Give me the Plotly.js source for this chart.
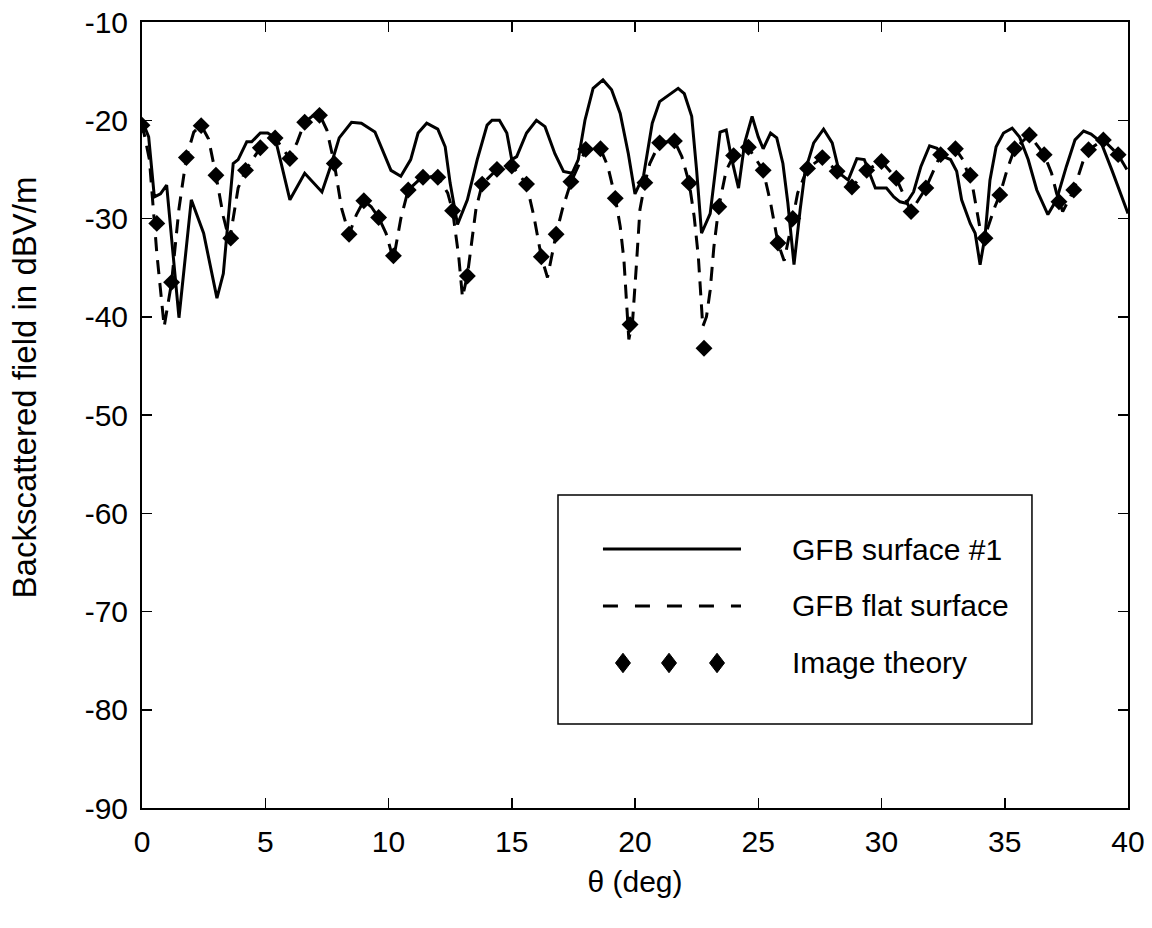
<!DOCTYPE html>
<html>
<head>
<meta charset="utf-8">
<script src="https://cdn.plot.ly/plotly-3.0.1.min.js"></script>
<style>
  html, body { margin: 0; padding: 0; background: #fff; }
  #chart { width: 1152px; height: 928px; }
</style>
</head>
<body>
<div id="chart"></div>
<script>
// ---- data ----
var thetaSurf = [0,0.27,0.5,0.75,1.0,1.5,2.0,2.5,3.04,3.3,
  3.7,3.9,4.25,4.45,4.8,5.1,5.4,6.0,6.6,7.3,
  7.65,8.0,8.5,8.9,9.45,10.1,10.5,10.9,11.2,11.55,
  12.0,12.3,12.5,12.8,13.2,13.6,14.0,14.2,14.5,14.8,
  15.0,15.2,15.6,16.0,16.35,16.75,17.1,17.45,17.7,17.97,
  18.3,18.7,19.05,19.4,19.73,20.0,20.35,20.7,21.0,21.4,
  21.75,22.0,22.3,22.5,22.7,23.05,23.45,23.7,23.9,24.2,
  24.45,24.75,25.0,25.2,25.5,25.75,26.0,26.2,26.45,26.7,
  26.9,27.25,27.65,28.0,28.3,28.65,29.0,29.3,29.75,30.2,
  30.5,30.75,31.0,31.3,31.6,31.95,32.25,32.5,32.8,33.05,
  33.25,33.6,33.8,34.0,34.2,34.4,34.65,34.95,35.3,35.6,
  35.95,36.3,36.75,37.1,37.5,37.85,38.2,38.5,38.9,39.35,
  39.7,40.0];
var gfbSurface = [-20.0,-21.7,-27.8,-27.5,-26.6,-40.1,-28.1,-31.5,-38.1,-35.6,
  -24.4,-24.0,-22.2,-22.2,-21.3,-21.3,-21.8,-28.1,-25.4,-27.3,
  -24.7,-21.8,-20.2,-20.3,-21.2,-25.1,-25.7,-24.0,-21.3,-20.3,
  -20.9,-22.7,-26.4,-30.6,-28.1,-24.0,-20.5,-20.0,-20.0,-21.3,
  -24.0,-23.7,-21.3,-20.0,-20.65,-23.4,-25.2,-25.4,-24.0,-20.0,
  -16.75,-15.9,-16.9,-19.3,-23.4,-27.5,-25.6,-20.3,-18.1,-17.4,
  -16.75,-17.3,-19.6,-25.1,-31.5,-29.5,-21.2,-21.0,-23.7,-26.9,
  -22.3,-19.6,-21.7,-22.9,-21.3,-21.8,-24.4,-28.4,-34.7,-29.1,
  -25.2,-22.3,-20.9,-22.3,-25.4,-26.1,-23.9,-24.0,-26.9,-26.9,
  -27.8,-28.3,-28.45,-27.3,-24.7,-22.6,-22.85,-23.7,-24.0,-25.2,
  -28.1,-30.5,-31.5,-34.7,-31.8,-26.1,-22.7,-21.3,-20.8,-21.7,
  -24.0,-27.1,-29.6,-28.1,-24.7,-22.0,-21.1,-21.4,-22.2,-25.1,
  -27.4,-29.5];

var thetaFlat = [0,0.3,0.6,0.9,1.2,1.5,1.8,2.1,2.4,2.7,
  3.0,3.3,3.55,3.9,4.2,4.8,5.4,6.0,6.3,6.6,
  6.9,7.2,7.5,7.8,8.1,8.4,8.7,9.0,9.3,9.6,
  9.9,10.2,10.5,10.8,11.4,12.0,12.4,12.6,12.85,13.0,
  13.2,13.4,13.55,13.8,14.4,15.0,15.6,15.9,16.2,16.45,
  16.8,17.05,17.4,18.0,18.6,18.9,19.2,19.4,19.55,19.75,
  19.9,20.05,20.2,20.4,20.6,21.0,21.6,21.9,22.2,22.4,
  22.57,22.75,22.9,23.05,23.2,23.4,23.7,24.0,24.6,25.2,
  25.5,25.8,26.05,26.4,26.6,27.0,27.6,28.2,28.8,29.4,
  30.0,30.6,31.2,31.8,32.4,33.0,33.3,33.7,34.1,34.6,
  34.8,35.1,35.4,36.0,36.6,36.9,37.1,37.35,37.8,38.2,
  38.4,39.0,39.6,40.0];
var gfbFlat = [-20.3,-24.0,-33.5,-41.0,-36.5,-29.0,-23.8,-21.2,-20.5,-21.9,
  -25.6,-29.8,-32.3,-26.9,-25.1,-22.8,-21.8,-23.9,-22.2,-20.2,
  -19.6,-19.4,-21.0,-24.4,-29.0,-31.6,-29.6,-28.2,-28.8,-29.9,
  -31.5,-34.2,-30.0,-27.1,-25.7,-25.8,-27.4,-29.2,-33.9,-38.0,
  -35.8,-32.0,-29.0,-26.5,-25.0,-24.6,-26.5,-29.8,-33.9,-36.0,
  -31.6,-29.1,-26.3,-23.0,-22.9,-24.7,-27.9,-30.8,-34.2,-42.3,
  -40.5,-35.0,-29.1,-26.4,-24.4,-22.3,-22.1,-23.7,-26.4,-29.8,
  -33.9,-41.0,-40.0,-37.3,-32.9,-28.8,-25.1,-23.6,-22.8,-25.1,
  -28.4,-32.5,-34.3,-30.0,-27.4,-24.9,-23.8,-25.2,-26.8,-25.1,
  -24.2,-25.9,-29.3,-26.9,-23.5,-22.9,-24.0,-26.8,-32.5,-28.8,
  -27.6,-25.0,-22.9,-21.5,-23.5,-25.4,-27.4,-29.3,-27.1,-24.0,
  -23.0,-22.0,-23.5,-25.2];

var thetaImg = [0,0.6,1.2,1.8,2.4,3.0,3.6,4.2,4.8,5.4,
  6.0,6.6,7.2,7.8,8.4,9.0,9.6,10.2,10.8,11.4,
  12.0,12.6,13.2,13.8,14.4,15.0,15.6,16.2,16.8,17.4,
  18.0,18.6,19.2,19.8,20.4,21.0,21.6,22.2,22.8,23.4,
  24.0,24.6,25.2,25.8,26.4,27.0,27.6,28.2,28.8,29.4,
  30.0,30.6,31.2,31.8,32.4,33.0,33.6,34.2,34.8,35.4,
  36.0,36.6,37.2,37.8,38.4,39.0,39.6];
var imageTheory = [-20.5,-30.5,-36.5,-23.8,-20.55,-25.6,-32.0,-25.1,-22.8,-21.8,
  -23.9,-20.2,-19.5,-24.4,-31.6,-28.2,-29.9,-33.8,-27.1,-25.8,
  -25.8,-29.2,-35.85,-26.5,-25.0,-24.65,-26.5,-33.9,-31.6,-26.25,
  -22.96,-22.9,-27.95,-40.8,-26.35,-22.3,-22.1,-26.4,-43.2,-28.8,
  -23.6,-22.75,-25.1,-32.5,-30.0,-24.9,-23.8,-25.2,-26.8,-25.1,
  -24.2,-25.9,-29.3,-26.9,-23.5,-22.9,-25.6,-32.0,-27.6,-22.9,
  -21.5,-23.5,-28.3,-27.1,-23.0,-22.0,-23.5];

var seriesNames = ['GFB surface #1', 'GFB flat surface', 'Image theory'];
var xTitle = '\u03b8 (deg)';
var yTitle = 'Backscattered field in dBV/m';
var xTicks = [0, 5, 10, 15, 20, 25, 30, 35, 40];
var yTicks = [-90, -80, -70, -60, -50, -40, -30, -20, -10];

// ---- chart ----
var FONT = 'Liberation Sans, Arial, Helvetica, sans-serif';
var DASH = '14px,9px';

var traces = [
  { x: thetaSurf, y: gfbSurface, name: seriesNames[0], type: 'scatter', mode: 'lines',
    line: { color: '#000', width: 3 }, showlegend: false },
  { x: thetaFlat, y: gfbFlat, name: seriesNames[1], type: 'scatter', mode: 'lines',
    line: { color: '#000', width: 3, dash: DASH }, showlegend: false },
  { x: thetaImg, y: imageTheory, name: seriesNames[2], type: 'scatter', mode: 'markers',
    marker: { symbol: 'diamond', size: 13, color: '#000' }, showlegend: false }
];

// legend box drawn in paper coordinates
var lg = { x0: 0.4219, x1: 0.9026, y0: 0.1069, y1: 0.3982,
           sx0: 0.4675, sx1: 0.6075, tx: 0.6572,
           rows: [0.3295, 0.2570, 0.1845], dx: [0.4878, 0.5345, 0.5832] };
var dw = 0.0076, dh = 0.0124;
var shapes = [
  { type: 'rect', xref: 'paper', yref: 'paper', x0: lg.x0, x1: lg.x1, y0: lg.y0, y1: lg.y1,
    line: { color: '#000', width: 1.5 }, fillcolor: '#fff' },
  { type: 'line', xref: 'paper', yref: 'paper', x0: lg.sx0, x1: lg.sx1, y0: lg.rows[0], y1: lg.rows[0],
    line: { color: '#000', width: 3 } },
  { type: 'line', xref: 'paper', yref: 'paper', x0: lg.sx0, x1: lg.sx1, y0: lg.rows[1], y1: lg.rows[1],
    line: { color: '#000', width: 3, dash: '15px,17px' } }
];
lg.dx.forEach(function (cx) {
  var cy = lg.rows[2];
  shapes.push({ type: 'path', xref: 'paper', yref: 'paper',
    path: 'M' + cx + ',' + (cy + dh) + ' L' + (cx + dw) + ',' + cy + ' L' + cx + ',' + (cy - dh) +
          ' L' + (cx - dw) + ',' + cy + ' Z',
    fillcolor: '#000', line: { color: '#000', width: 1 } });
});
var annotations = seriesNames.map(function (n, i) {
  return { xref: 'paper', yref: 'paper', x: lg.tx, y: lg.rows[i], text: n,
    xanchor: 'left', yanchor: 'middle', showarrow: false,
    font: { family: FONT, size: 30, color: '#000' } };
});
// y-axis title (placed as in the reference, slightly above the axis middle)
annotations.push({ xref: 'paper', yref: 'paper', x: -0.1187, y: 0.535, text: yTitle,
  textangle: -90, xanchor: 'center', yanchor: 'middle', showarrow: false,
  font: { family: FONT, size: 33, color: '#000' } });

var axisCommon = {
  showline: true, mirror: 'ticks', linecolor: '#000', linewidth: 2,
  ticks: 'inside', ticklen: 10, tickwidth: 1.5, tickcolor: '#000',
  showgrid: false, zeroline: false,
  tickfont: { family: FONT, size: 30, color: '#000' }
};

var layout = {
  width: 1152, height: 928,
  margin: { l: 142, r: 24, t: 22, b: 120 },
  paper_bgcolor: '#fff', plot_bgcolor: '#fff',
  showlegend: false,
  xaxis: Object.assign({}, axisCommon, {
    range: [0, 40], tickvals: xTicks, ticktext: xTicks.map(String),
    ticklabelstandoff: 6,
    title: { text: xTitle, font: { family: FONT, size: 30, color: '#000' }, standoff: 14 }
  }),
  yaxis: Object.assign({}, axisCommon, {
    range: [-90, -10], tickvals: yTicks, ticktext: yTicks.map(String),
    ticklabelstandoff: 6
  }),
  shapes: shapes,
  annotations: annotations
};

Plotly.newPlot('chart', traces, layout, { displayModeBar: false, staticPlot: true });
</script>
</body>
</html>
